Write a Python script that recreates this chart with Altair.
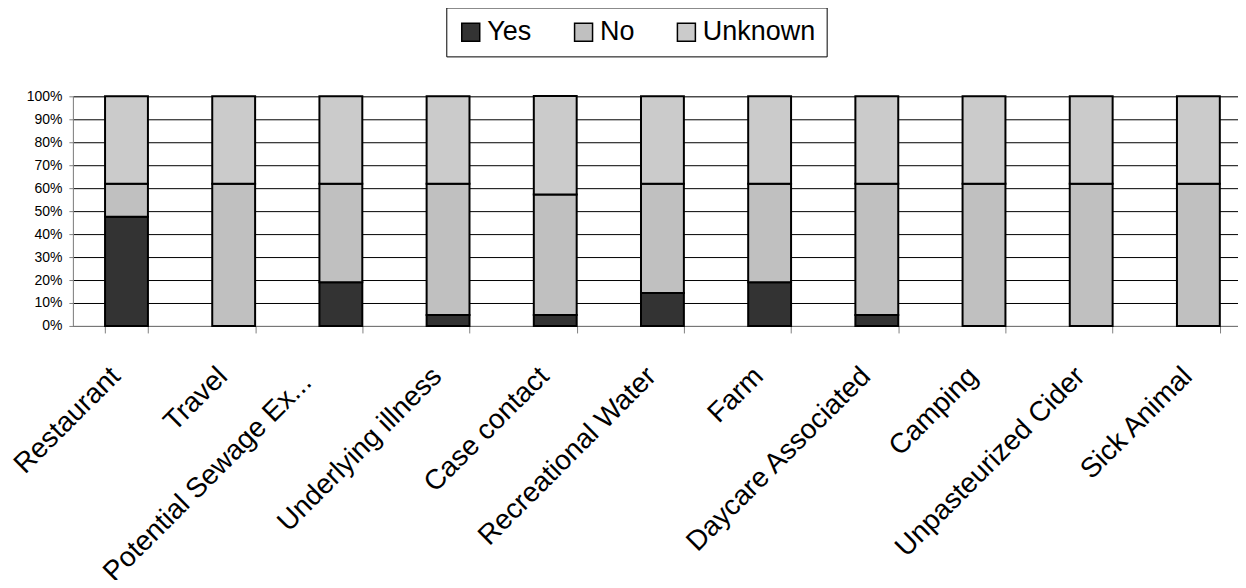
import altair as alt
import pandas as pd

categories = ["Restaurant", "Travel", "Potential Sewage Ex...", "Underlying illness",
              "Case contact", "Recreational Water", "Farm", "Daycare Associated",
              "Camping", "Unpasteurized Cider", "Sick Animal"]
yes_vals = [0.476, 0.0, 0.190, 0.048, 0.048, 0.143, 0.190, 0.048, 0.0, 0.0, 0.0]
no_vals = [0.143, 0.619, 0.429, 0.571, 0.524, 0.476, 0.429, 0.571, 0.619, 0.619, 0.619]
unknown_vals = [0.381, 0.381, 0.381, 0.381, 0.429, 0.381, 0.381, 0.381, 0.381, 0.381, 0.381]
series = ["Yes", "No", "Unknown"]
colors = ["#333333", "#c0c0c0", "#cbcbcb"]

rows = []
for i, c in enumerate(categories):
    for k, (s, vals) in enumerate(zip(series, [yes_vals, no_vals, unknown_vals])):
        rows.append({"category": c, "series": s, "value": vals[i], "order": k})
df = pd.DataFrame(rows)

FONT = "Liberation Sans"
truncated = "datum.value == 'Potential Sewage Ex...'"

chart = alt.Chart(df).mark_bar(stroke="black", strokeWidth=2).encode(
    x=alt.X("category:N", sort=categories, title=None,
            scale=alt.Scale(paddingInner=0.6, paddingOuter=0.3, range=[0, 1181]),
            axis=alt.Axis(labelAngle=-45, labelAlign="right", labelBaseline="middle",
                          labelFontSize=28, labelFont=FONT, labelColor="black",
                          labelPadding=alt.condition(truncated, alt.value(45), alt.value(39)),
                          labelOffset=alt.condition(truncated, alt.value(-34), alt.value(-11)),
                          tickSize=7, tickBand="extent",
                          tickColor="#808080", domainColor="#808080", grid=False,
                          labelLimit=400)),
    y=alt.Y("value:Q", stack="zero", title=None,
            scale=alt.Scale(domain=[0, 1], nice=False),
            axis=alt.Axis(values=[i / 10 for i in range(11)], format=".0%",
                          labelFontSize=14, labelFont=FONT, labelColor="black",
                          tickSize=4, tickColor="#808080", domainColor="#808080",
                          labelPadding=7, gridColor="black", gridWidth=1, gridOpacity=1)),
    color=alt.Color("series:N", sort=series,
                    scale=alt.Scale(domain=series, range=colors),
                    legend=alt.Legend(orient="none", legendX=374, legendY=-89,
                                      direction="horizontal", title=None,
                                      symbolType="square", symbolSize=324,
                                      symbolStrokeColor="black", symbolStrokeWidth=1.5,
                                      symbolOpacity=1,
                                      labelFontSize=27, labelFont=FONT, labelColor="black",
                                      labelOffset=3, columnPadding=38,
                                      strokeColor="black", padding=11)),
    order=alt.Order("order:Q"),
).properties(
    width=1167, height=230,
    autosize=alt.AutoSizeParams(type="none"),
    padding={"left": 65, "top": 88, "right": 0, "bottom": 254},
).configure_view(stroke=None).configure(background="white")

chart.save("out.html", embed_options={"renderer": "svg", "actions": False})
